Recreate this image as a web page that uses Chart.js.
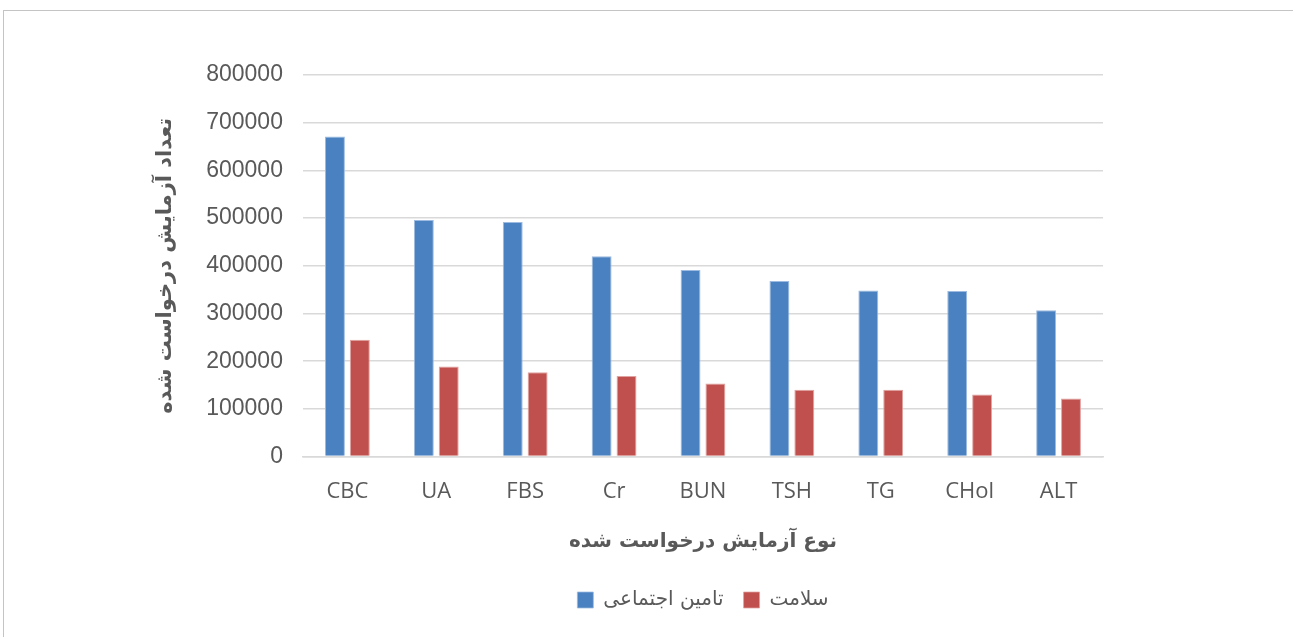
<!DOCTYPE html>
<html>
<head>
<meta charset="utf-8">
<script src="https://cdn.jsdelivr.net/npm/chart.js@4/dist/chart.umd.min.js"></script>
<style>
  html, body { margin: 0; padding: 0; background: #fff; overflow: hidden; }
  #frame {
    position: absolute; left: 3px; top: 10px; width: 1400px; height: 700px;
    border-top: 1px solid #c4c4c4; border-left: 1px solid #c4c4c4;
  }
  #wrap { position: absolute; left: 0; top: 0; width: 1293px; height: 637px; }
</style>
</head>
<body>
<div id="frame"></div>
<div id="wrap"><canvas id="chart"></canvas></div>
<script>
var categories = ['CBC', 'UA', 'FBS', 'Cr', 'BUN', 'TSH', 'TG', 'CHol', 'ALT'];
var taminValues = [671000, 496000, 492000, 420000, 391000, 368000, 348000, 347000, 307000];
var salamatValues = [245000, 189000, 177000, 169000, 153000, 140000, 140000, 130000, 122000];
var seriesNames = ['تامین اجتماعی', 'سلامت'];
var xTitle = 'نوع آزمایش درخواست شده';
var yTitle = 'تعداد آزمایش درخواست شده';

var grey = '#595959';

new Chart(document.getElementById('chart'), {
  type: 'bar',
  data: {
    labels: categories,
    datasets: [
      {
        label: seriesNames[0],
        data: taminValues,
        backgroundColor: '#4a81c0',
        borderColor: '#9dbbe0',
        borderWidth: { top: 1, left: 1, right: 1, bottom: 0 },
        categoryPercentage: 0.56,
        barPercentage: 0.8,
      },
      {
        label: seriesNames[1],
        data: salamatValues,
        backgroundColor: '#c0504d',
        borderColor: '#e0a3a1',
        borderWidth: { top: 1, left: 1, right: 1, bottom: 0 },
        categoryPercentage: 0.56,
        barPercentage: 0.8,
      },
    ],
  },
  options: {
    responsive: true,
    maintainAspectRatio: false,
    animation: false,
    layout: {
      padding: { left: 140, right: 190, top: 75, bottom: 17 },
    },
    scales: {
      x: {
        grid: { display: false, drawTicks: false },
        border: { display: true, color: '#d9d9d9', width: 1.5 },
        ticks: {
          color: grey,
          padding: 22,
          font: { family: 'Open Sans', size: 22 },
        },
        title: {
          display: true,
          text: xTitle,
          color: grey,
          padding: { top: 3, bottom: 16 },
          font: { family: 'DejaVu Sans', size: 20, weight: 'bold' },
        },
      },
      y: {
        min: 0,
        max: 800000,
        grid: { color: '#d9d9d9', lineWidth: 1.5, drawTicks: false },
        border: { display: false },
        ticks: {
          stepSize: 100000,
          color: grey,
          padding: 20,
          font: { family: 'Liberation Sans', size: 23 },
          callback: function (v) { return String(v); },
        },
        title: {
          display: true,
          text: yTitle,
          color: grey,
          padding: { top: 13, bottom: 8 },
          font: { family: 'DejaVu Sans', size: 21, weight: 'bold' },
        },
      },
    },
    plugins: {
      legend: {
        position: 'bottom',
        fullSize: false,
        labels: {
          color: grey,
          boxWidth: 16,
          boxHeight: 16,
          padding: 20,
          font: { family: 'DejaVu Sans', size: 20 },
        },
      },
      tooltip: { enabled: false },
    },
  },
});
</script>
</body>
</html>
